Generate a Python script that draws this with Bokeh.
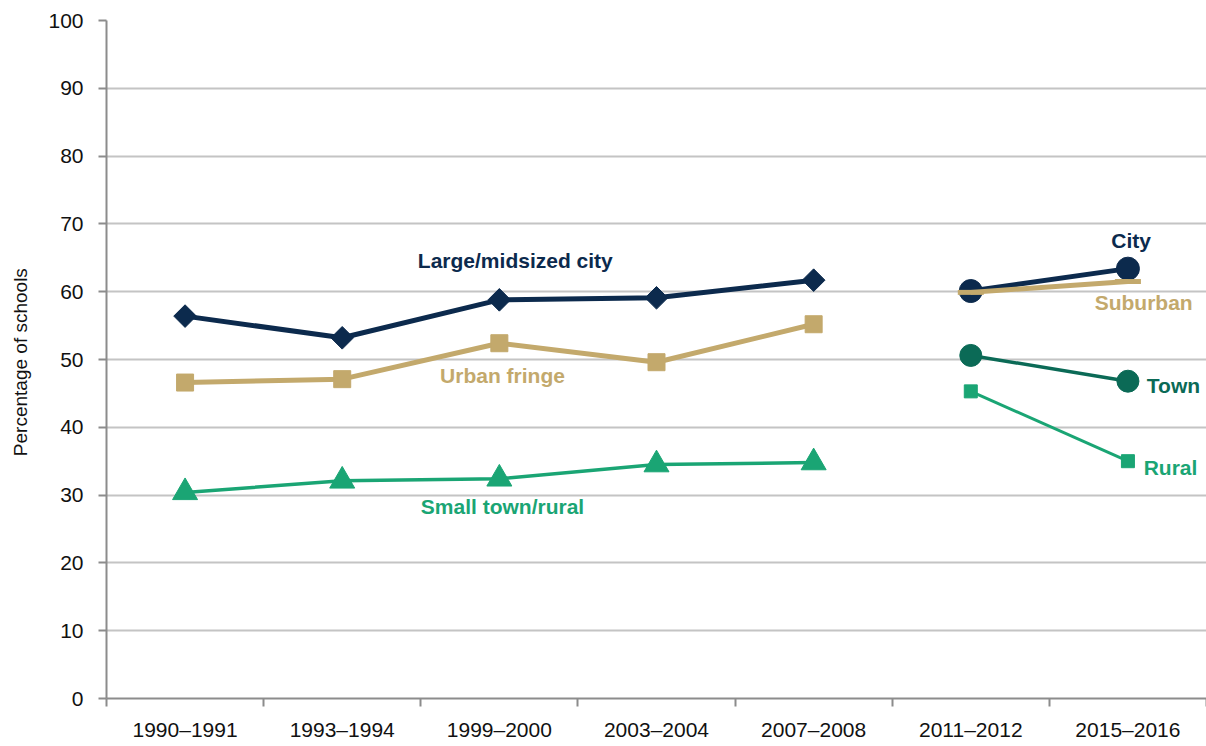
import math
from bokeh.plotting import figure
from bokeh.models import FixedTicker, Label
from bokeh.embed import file_html
from bokeh.resources import INLINE

# ---- data ----
periods = ["1990\u20131991", "1993\u20131994", "1999\u20132000", "2003\u20132004",
           "2007\u20132008", "2011\u20132012", "2015\u20132016"]
old_periods = periods[:5]
new_periods = periods[5:]

large_city = [56.4, 53.2, 58.8, 59.1, 61.7]
urban_fringe = [46.6, 47.1, 52.4, 49.6, 55.2]
small_town_rural = [30.4, 32.1, 32.4, 34.5, 34.8]

city = [60.1, 63.4]
suburban = [59.9, 61.5]
town = [50.6, 46.8]
rural = [45.3, 35.0]

y_ticks = list(range(0, 101, 10))

NAVY = "#0c2a4d"
TAN = "#c3a96c"
GREEN = "#1aa574"
TEAL = "#0b6a56"
GRID = "#c4c4c4"
AXIS = "#8c8c8c"
FONT = "Liberation Sans"


def xpos(labels):
    return [periods.index(l) + 0.5 for l in labels]


p = figure(width=1206, height=746, output_backend="svg", toolbar_location=None,
           x_range=(0, len(periods)), y_range=(0, 100),
           min_border_left=106, min_border_right=0, min_border_top=20,
           min_border_bottom=48)
p.outline_line_color = None
p.background_fill_color = "white"
p.border_fill_color = "white"

# axes
p.xaxis.ticker = FixedTicker(ticks=[i + 0.5 for i in range(len(periods))],
                             minor_ticks=list(range(len(periods) + 1)))
p.xaxis.major_label_overrides = {i + 0.5: periods[i] for i in range(len(periods))}
p.xaxis.major_tick_line_color = None
p.xaxis.major_tick_out = 8
p.xaxis.major_tick_in = 0
p.xaxis.minor_tick_line_color = AXIS
p.xaxis.minor_tick_out = 8
p.xaxis.minor_tick_in = 0
p.xaxis.minor_tick_line_width = 2
p.xaxis.axis_line_color = AXIS
p.xaxis.axis_line_width = 2
p.xaxis.major_label_standoff = 11
p.xaxis.major_label_text_font = FONT
p.xaxis.major_label_text_font_size = "21px"
p.xaxis.major_label_text_color = "#111111"

p.yaxis.ticker = FixedTicker(ticks=y_ticks)
p.yaxis.minor_tick_line_color = None
p.yaxis.major_tick_line_color = AXIS
p.yaxis.major_tick_line_width = 2
p.yaxis.major_tick_out = 8
p.yaxis.major_tick_in = 0
p.yaxis.axis_line_color = AXIS
p.yaxis.axis_line_width = 2
p.yaxis.major_label_standoff = 15
p.yaxis.major_label_text_font = FONT
p.yaxis.major_label_text_font_size = "21px"
p.yaxis.major_label_text_color = "#111111"
p.yaxis.axis_label = "Percentage  of schools"
p.yaxis.axis_label_text_font = FONT
p.yaxis.axis_label_text_font_style = "normal"
p.yaxis.axis_label_text_font_size = "19px"
p.yaxis.axis_label_text_color = "#111111"
p.yaxis.axis_label_standoff = 14

p.xgrid.grid_line_color = None
p.ygrid.grid_line_color = GRID
p.ygrid.grid_line_width = 2

# ---- old series ----
xo = xpos(old_periods)
p.line(xo, large_city, line_color=NAVY, line_width=5)
p.scatter(xo, large_city, marker="square", size=16, angle=math.pi / 4, color=NAVY)

p.line(xo, urban_fringe, line_color=TAN, line_width=5)
p.scatter(xo, urban_fringe, marker="square", size=17, color=TAN)

p.line(xo, small_town_rural, line_color=GREEN, line_width=3.5)
p.scatter(xo, small_town_rural, marker="triangle", size=25, color=GREEN)

# ---- new series ----
xn = xpos(new_periods)
p.line(xn, city, line_color=NAVY, line_width=5)
p.scatter(xn, city, marker="circle", size=23, color=NAVY)

p.line(xn, suburban, line_color=TAN, line_width=5)
p.scatter(xn, suburban, marker="dash", size=26, line_width=5, color=TAN)

p.line(xn, town, line_color=TEAL, line_width=3.5)
p.scatter(xn, town, marker="circle", size=22, color=TEAL)

p.line(xn, rural, line_color=GREEN, line_width=3)
p.scatter(xn, rural, marker="square", size=13, color=GREEN)

# ---- labels ----
def lab(x, y, text, color, align="center"):
    p.add_layout(Label(x=x, y=y, text=text, text_color=color,
                       text_font=FONT, text_font_style="bold",
                       text_font_size="21px", text_align=align,
                       text_baseline="middle"))

lab(2.62, 64.6, "Large/midsized  city", NAVY)
lab(2.52, 47.7, "Urban fringe", TAN)
lab(2.52, 28.3, "Small town/rural", GREEN)
lab(6.52, 67.5, "City", NAVY)
lab(6.60, 58.4, "Suburban", TAN)
lab(6.62, 46.2, "Town", TEAL, align="left")
lab(6.60, 34.1, "Rural", GREEN, align="left")

open("out.html", "w").write(file_html(p, INLINE))
